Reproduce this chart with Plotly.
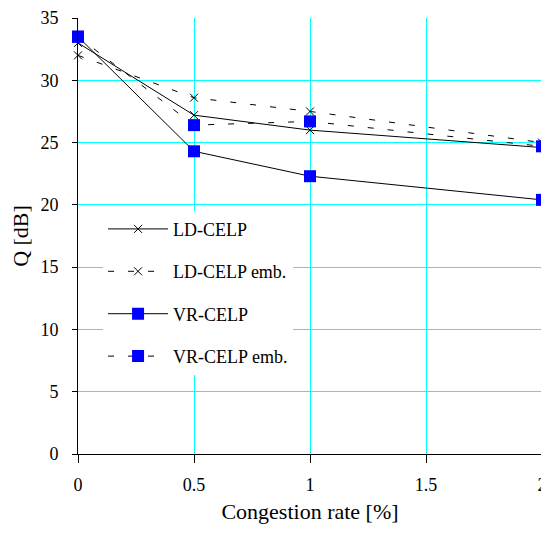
import plotly.graph_objects as go

# ---- data ----
congestion_rate = [0, 0.5, 1, 2]
ld_celp = [33.0, 27.2, 26.0, 24.6]
ld_celp_emb = [32.0, 28.6, 27.5, 25.0]
vr_celp = [33.5, 24.3, 22.3, 20.4]
vr_celp_emb = [33.5, 26.4, 26.7, 24.7]
series_names = ["LD-CELP", "LD-CELP emb.", "VR-CELP", "VR-CELP emb."]
x_tick_vals = [0, 0.5, 1, 1.5, 2]
x_tick_text = ["0", "0.5", "1", "1.5", "2"]
y_tick_vals = [0, 5, 10, 15, 20, 25, 30, 35]

FONT = "Liberation Serif"
GRID = "#00FFFF"

fig = go.Figure()

styles = [
    (ld_celp, "solid", dict(symbol="x-thin-open", size=8, color="black", line=dict(color="black", width=1))),
    (ld_celp_emb, "6px,14px", dict(symbol="x-thin-open", size=8, color="black", line=dict(color="black", width=1))),
    (vr_celp, "solid", dict(symbol="square", size=12, color="#0000FF", line=dict(width=0))),
    (vr_celp_emb, "6px,14px", dict(symbol="square", size=12, color="#0000FF", line=dict(width=0))),
]

for name, (vals, dash, marker) in zip(series_names, styles):
    fig.add_trace(go.Scatter(
        x=congestion_rate, y=vals, name=name, legendgroup=name,
        mode="lines+markers",
        line=dict(color="black", width=1, dash=dash),
        marker=marker, cliponaxis=False,
    ))

# the page body adds an 8px margin, so the figure is offset by 8px
fig.update_layout(
    width=541, height=520,
    margin=dict(l=70, r=7, t=10, b=74, autoexpand=False),
    paper_bgcolor="white", plot_bgcolor="white",
    font=dict(family=FONT, size=18, color="black"),
    showlegend=True,
    legend=dict(
        x=0.054, y=0.558, xanchor="left", yanchor="top",
        bgcolor="white", borderwidth=0,
        font=dict(family=FONT, size=18, color="black"),
        tracegroupgap=16, itemwidth=60,
    ),
    xaxis=dict(
        range=[0, 2], tickmode="array", tickvals=x_tick_vals, ticktext=x_tick_text,
        showgrid=True, gridcolor=GRID, gridwidth=1, zeroline=False,
        showline=True, linecolor="black", linewidth=1,
        ticks="outside", ticklen=8, tickcolor="black", tickwidth=1,
        tickfont=dict(family=FONT, size=18, color="black"),
        ticklabelstandoff=6, automargin=False,
        title=dict(text="Congestion rate [%]", font=dict(family=FONT, size=22, color="black"), standoff=10),
    ),
    yaxis=dict(
        range=[0, 35], tickmode="array", tickvals=y_tick_vals,
        showgrid=True, gridcolor=GRID, gridwidth=1, zeroline=False,
        showline=True, linecolor="black", linewidth=1,
        ticks="outside", ticklen=5, tickcolor="black", tickwidth=1,
        tickfont=dict(family=FONT, size=18, color="black"),
        ticklabelstandoff=10, automargin=False,
        title=dict(text="Q [dB]", font=dict(family=FONT, size=22, color="black"), standoff=7),
    ),
    # overlay axes giving the inner half of the crossing tick marks
    xaxis2=dict(
        overlaying="x", anchor="y", side="bottom", range=[0, 2],
        tickmode="array", tickvals=x_tick_vals, showticklabels=False,
        ticks="inside", ticklen=5, tickcolor="black", tickwidth=1,
        showgrid=False, showline=False, zeroline=False, automargin=False,
    ),
    yaxis2=dict(
        overlaying="y", anchor="x", side="left", range=[0, 35],
        tickmode="array", tickvals=y_tick_vals, showticklabels=False,
        ticks="inside", ticklen=6, tickcolor="black", tickwidth=1,
        showgrid=False, showline=False, zeroline=False, automargin=False,
    ),
)

fig.write_html("out.html")
